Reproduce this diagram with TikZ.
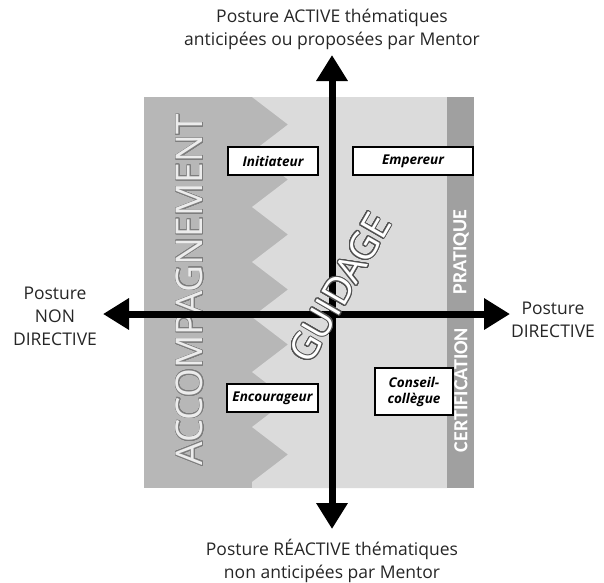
\documentclass[tikz,border=0pt]{standalone}
\usepackage{fontspec}
\setmainfont{Open Sans}
\newfontfamily\stripfont{Carlito}
\newfontfamily\bigsans{Open Sans}
\usepackage{contour}
\usetikzlibrary{arrows.meta}

\definecolor{zonedark}{RGB}{183,183,183}
\definecolor{zonelight}{RGB}{219,219,219}
\definecolor{zonestrip}{RGB}{160,160,160}
\definecolor{outlinegray}{RGB}{125,125,125}
\definecolor{outlinedark}{RGB}{80,80,80}
\definecolor{letterfill}{RGB}{236,236,236}

\tikzset{
  rolebox/.style={draw=black, line width=1.1pt, fill=white, inner sep=2pt,
    font=\fontsize{13.5}{16}\selectfont\bfseries\itshape, align=center},
  axis/.style={line width=7pt, black, {Triangle[length=26pt,width=30pt]}-{Triangle[length=26pt,width=30pt]}},
  postlabel/.style={font=\fontsize{17.5}{23}\selectfont, align=center, text=black!85},
  striplabel/.style={font=\stripfont\fontsize{20}{22}\selectfont\bfseries, text=white, rotate=90},
}

\begin{document}
\begin{tikzpicture}[x=1pt,y=-1pt]
\useasboundingbox (0,0) rectangle (604,582);

% background zones
\fill[zonedark] (144,97) rectangle (447,488);
\fill[zonelight] (447,97) -- (252,97)
  -- (288,124.5) -- (252,152) -- (288,179.5) -- (252,207)
  -- (288,234.5) -- (252,262) -- (288,289.5) -- (252,317)
  -- (288,344.5) -- (252,372) -- (288,399.5) -- (252,427)
  -- (288,454.5) -- (252,482) -- (252,488) -- (447,488) -- cycle;
\fill[zonestrip] (447,97) rectangle (474,488);

% zone titles: light letters with a thin outline
\contournumber{24}
\contourlength{0.7pt}
\node[rotate=90, inner sep=0] (accomp) at (190,290)
  {\bigsans\fontsize{37}{40}\selectfont\contour{outlinegray}{\textcolor{letterfill}{ACCOMPAGNEMENT}}};
\node[striplabel, inner sep=0] (prat) at (461,252) {PRATIQUE};
\node[striplabel, inner sep=0] (certif) at (461,390) {CERTIFICATION};

% roles
\node[rolebox, minimum width=90pt, minimum height=28pt] (init) at (273,161) {Initiateur};
\node[rolebox, minimum width=120pt, minimum height=28pt] (emp) at (413,161) {Empereur};
\node[rolebox, minimum width=91pt, minimum height=28pt] (enc) at (272.5,398) {Encourageur};
\node[rolebox, minimum width=78pt, minimum height=47pt] (cons) at (414,391.5) {Conseil-\\coll\`egue};

% axes
\coordinate (W) at (103,314);
\coordinate (E) at (510,314);
\coordinate (N) at (332,55);
\coordinate (S) at (332,529);
\draw[axis] (W) -- (E);
\draw[axis] (S) -- (N);

\contourlength{1pt}
\node[rotate=60, inner sep=0] (guid) at (340,288)
  {\bigsans\fontsize{38}{40}\selectfont\contour{outlinedark}{\textcolor{white}{GUIDAGE}}};

% axis labels
\node[postlabel] (top) at (332,29) {Posture ACTIVE thématiques\\anticipées ou proposées par Mentor};
\node[postlabel] (bot) at (332,561) {Posture RÉACTIVE thématiques\\non anticipées par Mentor};
\node[postlabel] (left) at (55,316) {Posture\\NON\\DIRECTIVE};
\node[postlabel] (right) at (553,320) {Posture\\DIRECTIVE};
\end{tikzpicture}
\end{document}
